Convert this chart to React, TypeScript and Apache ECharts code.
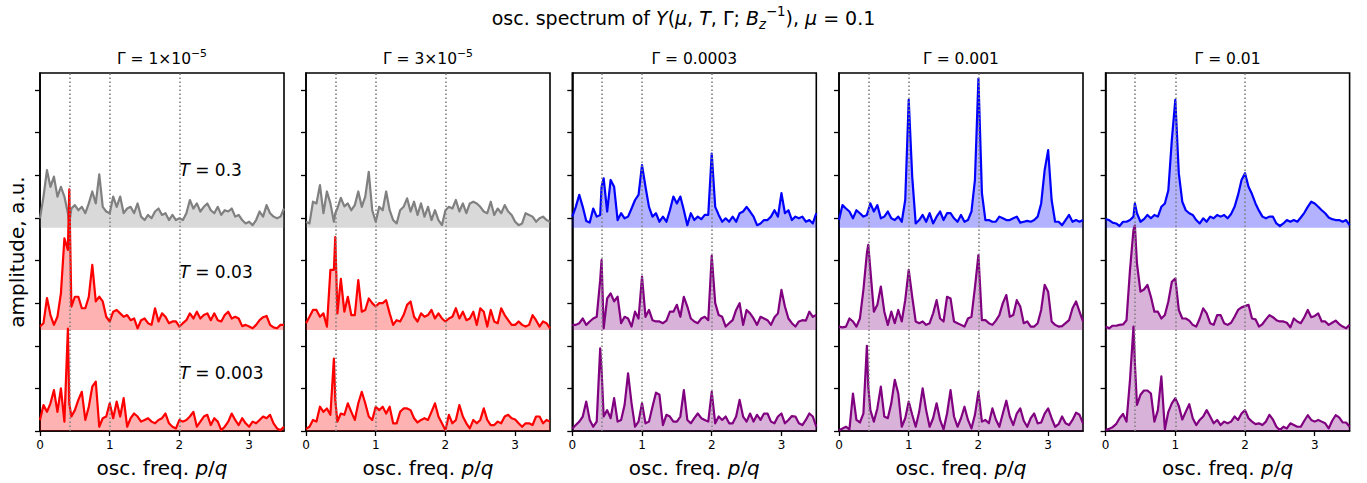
import React, { useEffect, useRef } from 'react';
import * as echarts from 'echarts';

// shared frequency grid (p/q)
const X = [
  0, 0.05, 0.1, 0.15, 0.2, 0.25, 0.3, 0.35, 0.4,
  0.42,
  0.45, 0.5, 0.55, 0.6, 0.65, 0.7, 0.75, 0.8, 0.85, 0.9,
  0.95, 1, 1.05, 1.1, 1.15, 1.2, 1.25, 1.3, 1.35, 1.4,
  1.45, 1.5, 1.55, 1.6, 1.65, 1.7, 1.75, 1.8, 1.85, 1.9,
  1.95, 2, 2.05, 2.1, 2.15, 2.2, 2.25, 2.3, 2.35, 2.4,
  2.45, 2.5, 2.55, 2.6, 2.65, 2.7, 2.75, 2.8, 2.85, 2.9,
  2.95, 3, 3.05, 3.1, 3.15, 3.2, 3.25, 3.3, 3.35, 3.4,
  3.45, 3.5,
];

const X_TICKS = [0, 1, 2, 3];
const Y_TICKS = [0, 1, 2, 3, 4, 5, 6, 7, 8];
const VLINES = [0.42, 1, 2];
const TEMPS = ['0.3', '0.03', '0.003'];
const OFFSETS = [4.77, 2.37, 0];
const GAMMA_LABELS = [
  '{n|Γ = 1×10}{s|−5}',
  '{n|Γ = 3×10}{s|−5}',
  '{n|Γ = 0.0003}',
  '{n|Γ = 0.001}',
  '{n|Γ = 0.01}',
];

// Γ = 1e-5
const p1T = [0.22,0.73,1.35,0.96,1.2,0.73,0.96,0.73,0.34, 0.1,
  0.45,0.53,0.41,0.49,0.34,0.57,0.85,0.57,1.25,0.49,
  0.38,0.34,0.73,0.49,0.73,0.34,0.45,0.49,0.34,0.57,
  0.26,0.18,0.30,0.22,0.38,0.45,0.30,0.34,0.18,0.30,
  0.18,0.22,0.18,0.34,0.65,0.45,0.57,0.38,0.49,0.57,
  0.41,0.34,0.49,0.30,0.41,0.38,0.45,0.26,0.30,0.18,
  0.10,0.14,0.06,0.18,0.38,0.26,0.53,0.34,0.26,0.22,
  0.26,0.45];
const p1M = [0.08,0.16,0.75,0.35,0.12,0.31,0.86,2.15,1.88, 3.3,
  0.55,0.78,0.78,0.51,0.51,0.78,1.53,0.67,0.78,0.67,
  0.31,0.2,0.43,0.47,0.39,0.31,0.35,0.23,0.27,0.04,
  0.23,0.27,0.16,0.12,0.51,0.2,0.39,0.31,0.16,0.2,
  0.2,0.08,0.16,0.23,0.39,0.27,0.43,0.27,0.35,0.39,
  0.23,0.39,0.23,0.2,0.35,0.43,0.27,0.31,0.27,0.09,
  0.12,0.08,0.04,0.12,0.23,0.3,0.33,0.12,0.06,0.04,
  0.12,0.12];
const p1B = [0.26,0.61,0.45,0.65,0.96,0.45,1.0,0.22,2.4, 0.65,
  0.34,0.49,0.73,0.92,0.26,0.57,1.04,1.16,0.1,0.3,
  0.34,0.65,0.3,0.69,0.34,0.77,0.1,0.3,0.41,0.34,
  0.22,0.26,0.3,0.22,0.18,0.26,0.3,0.41,0.18,0.1,
  0.06,0.26,0.22,0.26,0.34,0.45,0.1,0.22,0.34,0.38,
  0.14,0.3,0.22,0.02,0.1,0.22,0.41,0.26,0.14,0.3,
  0.18,0.1,0.22,0.18,0.26,0.34,0.3,0.38,0.18,0.06,
  0.02,0.1];

// Γ = 3e-5
const p2T = [0.14,0.1,0.61,0.57,1.0,0.34,0.85,0.57,0.14, 0.34,
  0.45,0.7,0.5,0.57,0.41,0.53,0.85,0.49,0.73,1.31,
  0.41,0.14,0.49,0.41,0.85,0.41,0.18,0.1,0.41,0.49,
  0.69,0.38,0.61,0.3,0.57,0.26,0.49,0.18,0.41,0.18,
  0.06,0.41,0.49,0.45,0.65,0.38,0.57,0.34,0.57,0.61,
  0.57,0.49,0.38,0.34,0.61,0.3,0.45,0.34,0.53,0.38,
  0.3,0.14,0.06,0.1,0.34,0.3,0.26,0.14,0.22,0.26,
  0.18,0.14];
const p2M = [0.16,0.31,0.47,0.47,0.31,0.39,0.08,1.41,1.41, 2.18,
  0.39,1.2,0.43,0.78,0.35,0.35,1.17,0.43,0.47,0.74,
  0.63,0.55,0.63,0.63,0.7,0.39,0.12,0.23,0.2,0.35,
  0.59,0.67,0.31,0.2,0.39,0.31,0.35,0.47,0.27,0.39,
  0.27,0.2,0.27,0.31,0.51,0.27,0.43,0.23,0.27,0.43,
  0.12,0.51,0.43,0.08,0.47,0.2,0.16,0.51,0.35,0.23,
  0.12,0.12,0.2,0.12,0.08,0.12,0.35,0.23,0.08,0.2,
  0.16,0.04];
const p2B = [0.05,0.1,0.26,0.22,0.57,0.45,0.53,0.38,1.7, 0.73,
  0.22,0.41,0.38,0.65,0.45,0.26,0.65,0.92,0.65,0.34,
  0.26,0.57,0.49,0.57,0.41,0.57,0.18,0.18,0.45,0.53,
  0.53,0.49,0.3,0.2,0.26,0.3,0.26,0.45,0.65,0.34,
  0.18,0.02,0.38,0.18,0.26,0.61,0.34,0.18,0.06,0.26,
  0.18,0.26,0.53,0.26,0.14,0.14,0.22,0.18,0.34,0.38,
  0.3,0.27,0.18,0.1,0.18,0.18,0.14,0.34,0.34,0.18,
  0.26,0.22];

// Γ = 0.0003
const p3T = [0.26,0.49,0.77,0.49,0.16,0.12,0.45,0.26,0.3, 0.96,
  1.16,0.38,1.12,0.96,0.18,0.34,0.22,0.26,0.45,0.65,
  0.77,1.47,0.96,0.49,0.26,0.34,0.14,0.26,0.14,0.41,
  0.73,0.57,0.73,0.41,0.06,0.34,0.18,0.26,0.2,0.3,
  0.3,1.74,0.49,0.3,0.14,0.22,0.14,0.26,0.14,0.34,
  0.38,0.49,0.38,0.26,0.06,0.1,0.18,0.18,0.26,0.41,
  0.26,0.81,0.34,0.41,0.18,0.26,0.22,0.26,0.14,0.18,
  0.1,0.34];
const p3M = [0.12,0.12,0.16,0.27,0.12,0.2,0.27,0.31,1.17, 1.64,
  0.04,0.74,0.86,0.67,0.78,0.16,0.31,0.27,0.08,0.43,
  0.27,1.25,0.31,0.47,0.23,0.2,0.2,0.16,0.22,0.43,
  0.43,0.59,0.31,0.78,0.55,0.27,0.2,0.16,0.27,0.31,
  0.23,1.74,0.63,0.35,0.31,0.08,0.16,0.23,0.47,0.63,
  0.12,0.47,0.39,0.27,0.12,0.31,0.27,0.23,0.12,0.3,
  0.39,0.94,0.55,0.27,0.16,0.08,0.2,0.23,0.22,0.43,
  0.31,0.35];
const p3B = [0.06,0.14,0.22,0.34,0.69,0.26,0.1,0.22,1.94, 1.43,
  0.34,0.49,0.3,0.77,0.22,0.26,0.61,1.35,0.65,0.1,
  0.22,0.65,0.18,0.22,0.57,0.9,0.85,0.14,0.38,0.34,
  0.22,0.22,0.34,0.96,0.26,0.18,0.3,0.41,0.3,0.26,
  0.22,0.92,0.18,0.34,0.26,0.34,0.18,0.18,0.34,0.73,
  0.34,0.22,0.41,0.22,0.38,0.26,0.41,0.41,0.22,0.18,
  0.34,0.41,0.18,0.26,0.35,0.34,0.18,0.14,0.26,0.41,
  0.34,0.1];

// Γ = 0.001
const p4T = [0.18,0.53,0.45,0.38,0.22,0.41,0.34,0.26,0.3, 0.41,
  0.57,0.38,0.53,0.22,0.26,0.38,0.22,0.18,0.26,0.14,
  0.65,3.0,1.2,0.1,0.18,0.3,0.14,0.34,0.1,0.26,
  0.38,0.18,0.34,0.34,0.22,0.14,0.3,0.14,0.18,0.38,
  1.12,3.5,0.81,0.18,0.18,0.14,0.14,0.26,0.22,0.18,
  0.18,0.22,0.26,0.12,0.14,0.16,0.14,0.18,0.26,0.57,
  1.35,1.82,0.65,0.14,0.14,0.06,0.18,0.3,0.14,0.18,
  0.14,0.18];
const p4M = [0.08,0.06,0.08,0.27,0.2,0.08,0.27,0.94,1.8, 2.0,
  1.41,0.43,0.59,1.02,0.43,0.12,0.43,0.16,0.47,0.2,
  0.7,1.41,0.78,0.2,0.16,0.2,0.12,0.16,0.39,0.7,
  0.27,0.2,0.78,0.74,0.2,0.16,0.12,0.08,0.27,0.31,
  1.0,1.76,0.23,0.23,0.16,0.12,0.22,0.35,0.63,0.82,
  0.31,0.35,0.7,0.55,0.16,0.2,0.08,0.08,0.16,0.47,
  1.06,0.9,0.2,0.12,0.08,0.09,0.16,0.23,0.51,0.67,
  0.43,0.2];
const p4B = [0.02,0.06,0.1,0.04,0.88,0.26,0.2,0.41,2.0, 1.04,
  0.49,0.22,0.53,1.04,0.34,0.3,0.65,1.2,0.88,0.1,
  0.3,0.69,0.38,0.1,0.45,1.0,0.49,0.1,0.3,0.65,
  0.26,0.04,0.41,0.96,0.34,0.1,0.3,0.57,0.26,0.06,
  0.38,0.92,0.22,0.26,0.18,0.53,0.27,0.1,0.41,0.71,
  0.34,0.14,0.41,0.53,0.24,0.1,0.3,0.41,0.18,0.2,
  0.41,0.53,0.3,0.1,0.16,0.34,0.18,0.14,0.26,0.43,
  0.38,0.18];

// Γ = 0.01
const p5T = [0.2,0.18,0.12,0.1,0.04,0.14,0.14,0.18,0.26, 0.57,
  0.34,0.14,0.2,0.3,0.22,0.3,0.26,0.49,0.57,0.88,
  2.06,3.0,1.28,0.61,0.41,0.34,0.3,0.18,0.1,0.22,
  0.14,0.26,0.22,0.3,0.26,0.3,0.22,0.32,0.49,0.77,
  1.12,1.28,0.96,0.79,0.57,0.4,0.26,0.22,0.26,0.26,
  0.1,0.04,0.1,0.18,0.14,0.18,0.14,0.24,0.35,0.49,
  0.61,0.57,0.49,0.41,0.34,0.24,0.2,0.18,0.18,0.14,
  0.18,0.06];
const p5M = [0.08,0.04,0.1,0.1,0.12,0.13,0.23,1.41,2.35, 2.45,
  1.56,0.9,0.95,1.06,0.78,0.43,0.43,0.27,0.35,0.67,
  1.13,1.21,0.47,0.27,0.27,0.22,0.12,0.08,0.27,0.51,
  0.39,0.16,0.12,0.35,0.35,0.16,0.12,0.17,0.31,0.47,
  0.53,0.56,0.59,0.27,0.25,0.08,0.14,0.25,0.35,0.3,
  0.23,0.2,0.2,0.17,0.06,0.27,0.2,0.16,0.3,0.47,
  0.3,0.33,0.39,0.2,0.2,0.12,0.17,0.22,0.14,0.08,
  0.04,0.12];
const p5B = [0.02,0.05,0.09,0.16,0.3,0.4,0.22,1.2,2.45, 1.59,
  0.61,0.85,0.95,0.95,0.88,0.22,0.49,1.28,0.04,0.45,
  0.65,0.77,0.59,0.27,0.45,0.63,0.3,0.14,0.26,0.34,
  0.49,0.34,0.18,0.26,0.14,0.22,0.18,0.22,0.34,0.26,
  0.41,0.49,0.3,0.22,0.16,0.18,0.14,0.22,0.38,0.27,
  0.1,0.02,0.1,0.06,0.18,0.14,0.1,0.1,0.24,0.37,
  0.26,0.22,0.26,0.22,0.18,0.06,0.24,0.37,0.32,0.2,
  0.2,0.1];

const PANEL_DATA = [
  [p1T, p1M, p1B],
  [p2T, p2M, p2B],
  [p3T, p3M, p3B],
  [p4T, p4M, p4B],
  [p5T, p5M, p5B],
];

const GRAY = { line: '#808080', fill: 'rgba(128,128,128,0.3)' };
const RED = { line: '#ff0000', fill: 'rgba(255,0,0,0.3)' };
const BLUE = { line: '#0000ff', fill: 'rgba(0,0,255,0.3)' };
const PURPLE = { line: '#800080', fill: 'rgba(128,0,128,0.3)' };
const PANEL_COLORS = [
  [GRAY, RED, RED],
  [GRAY, RED, RED],
  [BLUE, PURPLE, PURPLE],
  [BLUE, PURPLE, PURPLE],
  [BLUE, PURPLE, PURPLE],
];

// layout (pixels)
const GRID_LEFTS = [40, 306, 572.3, 839, 1105.6];
const GRID_TOP = 73;
const GRID_W = 244;
const GRID_H = 358;
const X_MAX = 3.5;
const Y_MAX = 8.4;
const FONT = 'DejaVu Sans';

function rich(size: number) {
  return {
    n: { fontSize: size, fontFamily: FONT, color: '#000', lineHeight: size * 1.4 },
    i: { fontSize: size, fontFamily: FONT, color: '#000', fontStyle: 'italic', lineHeight: size * 1.4 },
    s: { fontSize: size * 0.7, fontFamily: FONT, color: '#000', lineHeight: size * 0.7, verticalAlign: 'top' },
    si: { fontSize: size * 0.7, fontFamily: FONT, color: '#000', fontStyle: 'italic', lineHeight: size * 0.9, verticalAlign: 'bottom' },
  };
}

function buildOption() {
  const grid: any[] = [];
  const xAxis: any[] = [];
  const yAxis: any[] = [];
  const series: any[] = [];
  const graphic: any[] = [];

  GRID_LEFTS.forEach((left, p) => {
    grid.push({
      left, top: GRID_TOP, width: GRID_W, height: GRID_H,
      show: true, borderColor: '#000', borderWidth: 1.6, backgroundColor: 'transparent',
    });
    xAxis.push({
      type: 'value', gridIndex: p, min: 0, max: X_MAX,
      axisLine: { show: true, onZero: false, lineStyle: { color: '#000', width: 1.6 } },
      axisTick: { show: true, inside: false, length: 5, customValues: X_TICKS, lineStyle: { color: '#000', width: 1.3 } },
      axisLabel: { show: true, customValues: X_TICKS, fontSize: 12, fontFamily: FONT, color: '#000', margin: 8 },
      splitLine: { show: false },
    });
    yAxis.push({
      type: 'value', gridIndex: p, min: 0, max: Y_MAX,
      axisLine: { show: true, lineStyle: { color: '#000', width: 1.6 } },
      axisTick: { show: true, inside: false, length: 5, customValues: Y_TICKS, lineStyle: { color: '#000', width: 1.3 } },
      axisLabel: { show: false },
      splitLine: { show: false },
    });

    PANEL_DATA[p].forEach((amp, t) => {
      const col = PANEL_COLORS[p][t];
      const off = OFFSETS[t];
      const s: any = {
        type: 'line', xAxisIndex: p, yAxisIndex: p,
        data: X.map((x, k) => [x, off + amp[k]]),
        symbol: 'none', silent: true,
        lineStyle: { color: col.line, width: 2.2, join: 'round' },
        areaStyle: { color: col.fill, opacity: 1, origin: off },
      };
      if (t === 2) {
        s.markLine = {
          silent: true,
          symbol: ['none', 'none'],
          label: { show: false },
          lineStyle: { color: '#808080', type: [1.5, 2.5], width: 1.6 },
          data: VLINES.map((v) => ({ xAxis: v })),
        };
      }
      series.push(s);
    });

    const cx = left + GRID_W / 2;
    graphic.push({
      type: 'text', x: cx, y: 59,
      style: { text: GAMMA_LABELS[p], rich: rich(15.5), align: 'center', verticalAlign: 'middle' },
    });
    graphic.push({
      type: 'text', x: cx, y: 468,
      style: { text: '{n|osc. freq. }{i|p}{n|/}{i|q}', rich: rich(20), align: 'center', verticalAlign: 'middle' },
    });
  });

  // T labels in first panel at data x = 2
  TEMPS.forEach((tv, t) => {
    const px = GRID_LEFTS[0] + (2 / X_MAX) * GRID_W;
    const py = GRID_TOP + (1 - (OFFSETS[t] + 1.35) / Y_MAX) * GRID_H;
    graphic.push({
      type: 'text', x: px, y: py,
      style: { text: `{i|T}{n| = ${tv}}`, rich: rich(17), align: 'left', verticalAlign: 'middle' },
    });
  });

  graphic.push({
    type: 'text', x: 683.5, y: 18,
    style: {
      text: '{n|osc. spectrum of }{i|Y}{n|(}{i|μ}{n|, }{i|T}{n|, Γ; }{i|B}{si|z}{s|−1}{n|), }{i|μ}{n| = 0.1}',
      rich: rich(19), align: 'center', verticalAlign: 'middle',
    },
  });
  graphic.push({
    type: 'text', x: 17, y: 252, rotation: Math.PI / 2,
    style: { text: 'amplitude, a.u.', fontSize: 20, fontFamily: FONT, fill: '#000', align: 'center', verticalAlign: 'middle' },
  });

  return { animation: false, backgroundColor: '#fff', grid, xAxis, yAxis, series, graphic };
}

export default function App() {
  const ref = useRef<HTMLDivElement>(null);
  useEffect(() => {
    if (!ref.current) return;
    const chart = echarts.init(ref.current, undefined, { renderer: 'svg' });
    chart.setOption(buildOption() as any);
    return () => chart.dispose();
  }, []);
  return (
    <div
      ref={ref}
      style={{ position: 'absolute', left: 0, top: 0, width: 1367, height: 483 }}
    />
  );
}
